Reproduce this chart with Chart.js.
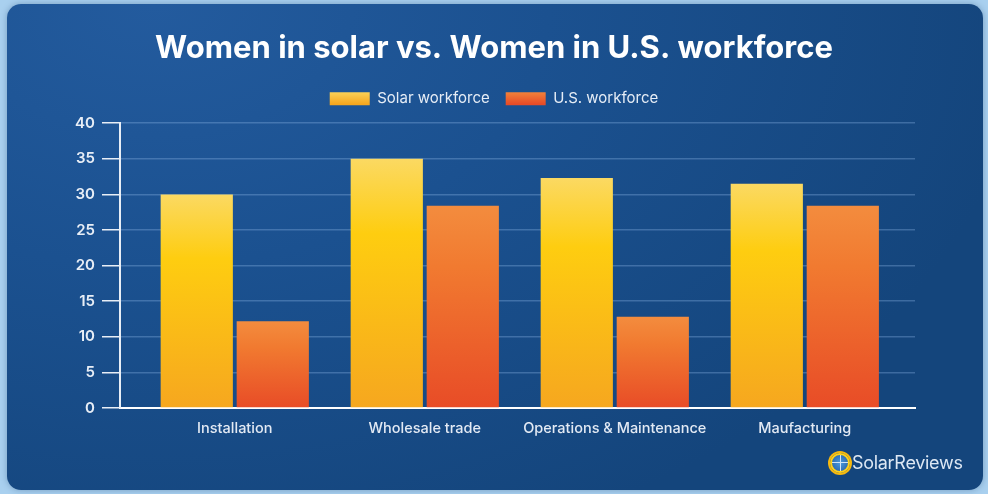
<!DOCTYPE html>
<html lang="en">
<head>
  <meta charset="UTF-8">
  <title>Women in solar vs. Women in U.S. workforce</title>
  <script src="https://cdn.jsdelivr.net/npm/chart.js"></script>
  <style>
    html, body {
      margin: 0;
      padding: 0;
      width: 988px;
      height: 494px;
      overflow: hidden;
      background: #a9d0ef;
    }

    .card {
      position: absolute;
      left: 7px;
      top: 4px;
      width: 976px;
      height: 486px;
      border-radius: 14px;
      background: radial-gradient(ellipse 90% 120% at 15% 0%, #235b9e 0%, #1b5190 45%, #14457c 100%);
      box-shadow: 0 0 6px rgba(20, 60, 110, 0.35);
    }

    .chart-box {
      position: absolute;
      left: 0;
      top: 0;
      width: 988px;
      height: 494px;
    }

    .brand {
      position: absolute;
      left: 830px;
      top: 452px;
      display: flex;
      align-items: center;
      gap: 2px;
      font-family: 'Inter', sans-serif;
      font-size: 18px;
      color: #dde7f3;
      letter-spacing: -0.3px;
    }

    .sun {
      width: 16px;
      height: 16px;
      border-radius: 50%;
      border: 2px solid #ffd21a;
      box-shadow: 0 0 0 2px #f6b80f;
      background-image:
        linear-gradient(#cfe4f8, #cfe4f8),
        linear-gradient(#cfe4f8, #cfe4f8),
        radial-gradient(circle, #4b9be0 0%, #2f6fb5 70%);
      background-size: 1px 100%, 100% 1px, 100% 100%;
      background-position: center, center, center;
      background-repeat: no-repeat;
    }
  </style>
</head>
<body>
  <div class="card"></div>
  <div class="chart-box"><canvas id="barChart" width="988" height="494"></canvas></div>
  <div class="brand"><span class="sun"></span><span>SolarReviews</span></div>

  <script>
    const categories = ['Installation', 'Wholesale trade', 'Operations & Maintenance', 'Maufacturing'];
    const solarWorkforce = [30.0, 35.0, 32.3, 31.5];
    const usWorkforce = [12.2, 28.4, 12.8, 28.4];
    const yTicks = [0, 5, 10, 15, 20, 25, 30, 35, 40];

    const solarFill = ['#fbd962', '#fecd10', '#f6a71f'];
    const usFill = ['#f38c3e', '#f17a30', '#e84c27'];

    // vertical gradient running from the top of each bar down to the baseline
    function barGradient(colors) {
      return function(context) {
        const chart = context.chart;
        const yScale = chart.scales.y;
        if (!yScale || context.parsed == null) return colors[1];
        const top = yScale.getPixelForValue(context.parsed.y);
        const bottom = yScale.getPixelForValue(0);
        const g = chart.ctx.createLinearGradient(0, top, 0, bottom);
        g.addColorStop(0, colors[0]);
        g.addColorStop(0.3, colors[1]);
        g.addColorStop(1, colors[2]);
        return g;
      };
    }

    const toPoints = values => values.map((v, i) => ({ x: i, y: v }));

    // a little extra room under the legend
    const legendGap = {
      id: 'legendGap',
      beforeInit(chart) {
        const fit = chart.legend.fit;
        chart.legend.fit = function() {
          fit.call(this);
          this.height += 7;
        };
      }
    };

    const ctx = document.getElementById('barChart').getContext('2d');
    const chart = new Chart(ctx, {
      type: 'bar',
      data: {
        datasets: [
          {
            label: 'Solar workforce',
            data: toPoints(solarWorkforce),
            backgroundColor: barGradient(solarFill),
            borderWidth: 0
          },
          {
            label: 'U.S. workforce',
            data: toPoints(usWorkforce),
            backgroundColor: barGradient(usFill),
            borderWidth: 0
          }
        ]
      },
      options: {
        responsive: false,
        animation: false,
        categoryPercentage: 0.8,
        barPercentage: 0.95,
        layout: { padding: 0 },
        plugins: {
          title: {
            display: true,
            text: 'Women in solar vs. Women in U.S. workforce',
            color: '#ffffff',
            font: { family: 'Inter', size: 31, weight: '700' },
            padding: { top: 30, bottom: 8 }
          },
          legend: {
            display: true,
            labels: {
              color: '#e6edf6',
              font: { family: 'Inter', size: 15 },
              boxWidth: 40,
              boxHeight: 13,
              padding: 16,
              generateLabels: function(chart) {
                const fills = [solarFill, usFill];
                return chart.data.datasets.map((ds, i) => {
                  const g = chart.ctx.createLinearGradient(0, 90, 0, 104);
                  g.addColorStop(0, fills[i][0]);
                  g.addColorStop(1, fills[i][2]);
                  return {
                    text: ds.label,
                    fillStyle: g,
                    strokeStyle: 'transparent',
                    lineWidth: 0,
                    fontColor: '#e6edf6',
                    datasetIndex: i
                  };
                });
              }
            }
          },
          tooltip: { enabled: false }
        },
        scales: {
          x: {
            type: 'linear',
            offset: false,
            min: -0.604,
            max: 3.58,
            afterBuildTicks: function(scale) {
              scale.ticks = categories.map((c, i) => ({ value: i }));
            },
            afterFit: function(scale) { scale.height = 86; },
            ticks: {
              color: '#e3eaf4',
              font: { family: 'Inter', size: 14.5, weight: '500' },
              padding: 4,
              autoSkip: false,
              maxRotation: 0,
              callback: function(value) {
                return Number.isInteger(value) ? categories[value] : '';
              }
            },
            grid: { display: false },
            border: { display: true, color: '#ffffff', width: 2 }
          },
          y: {
            min: 0,
            max: 40,
            afterBuildTicks: function(scale) {
              scale.ticks = yTicks.map(v => ({ value: v }));
            },
            afterFit: function(scale) { scale.width = 120; },
            ticks: {
              color: '#e8eef6',
              font: { family: 'Inter', size: 15, weight: '600' },
              padding: 7
            },
            grid: {
              color: 'rgba(150, 190, 235, 0.32)',
              lineWidth: 1.5,
              tickColor: '#e8eef6',
              tickLength: 18,
              drawTicks: true
            },
            border: { display: true, color: '#e8eef6', width: 2 }
          },
          // empty right-hand axis that only reserves the right margin
          yRight: {
            position: 'right',
            display: true,
            min: 0,
            max: 40,
            afterFit: function(scale) { scale.width = 73; },
            ticks: { display: false },
            grid: { display: false },
            border: { display: false }
          }
        }
      },
      plugins: [legendGap]
    });
  </script>
</body>
</html>
